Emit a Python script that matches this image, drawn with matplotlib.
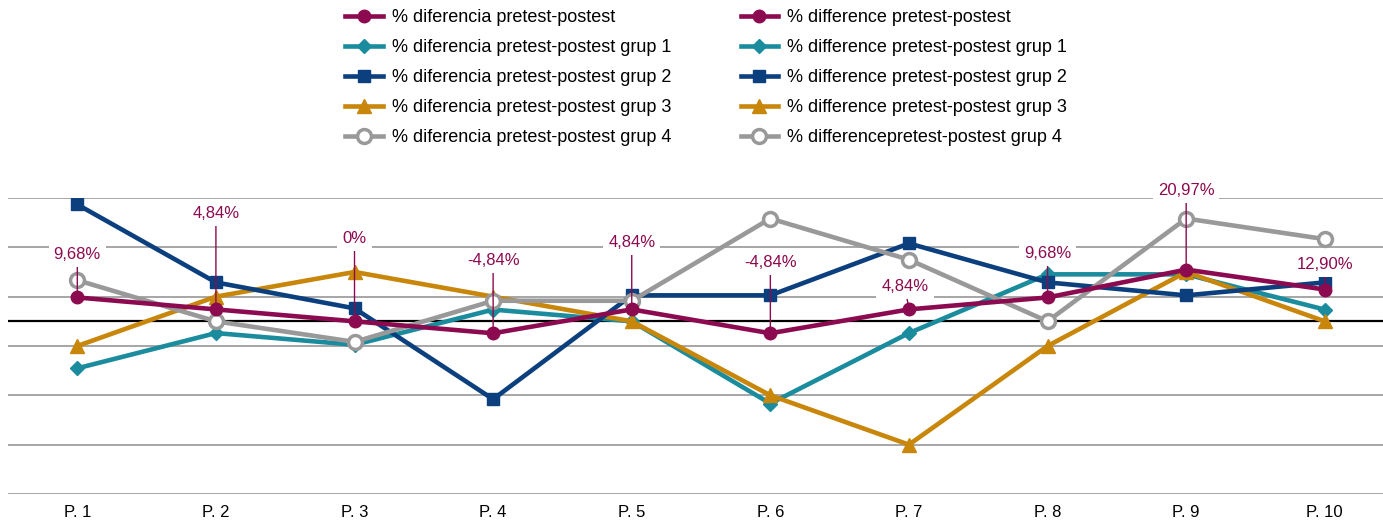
import numpy as np
import matplotlib.pyplot as plt

plt.rcParams['font.family'] = ['Liberation Sans', 'DejaVu Sans']

cats = ['P. 1', 'P. 2', 'P. 3', 'P. 4', 'P. 5', 'P. 6', 'P. 7', 'P. 8', 'P. 9', 'P. 10']
total = [9.68, 4.84, 0, -4.84, 4.84, -4.84, 4.84, 9.68, 20.97, 12.90]
total_lbl = ['9,68%', '4,84%', '0%', '-4,84%', '4,84%', '-4,84%', '4,84%', '9,68%', '20,97%', '12,90%']
grup1 = [-19.05, -4.76, -9.52, 4.76, 0, -33.33, -4.76, 19.05, 19.05, 4.76]
grup2 = [47.37, 15.79, 5.26, -31.58, 10.53, 10.53, 31.58, 15.79, 10.53, 15.79]
grup3 = [-10, 10, 20, 10, 0, -30, -50, -10, 20, 0]
grup4 = [16.67, 0, -8.33, 8.33, 8.33, 41.67, 25, 0, 41.67, 33.33]

labels_ca = ['% diferencia pretest-postest',
             '% diferencia pretest-postest grup 1',
             '% diferencia pretest-postest grup 2',
             '% diferencia pretest-postest grup 3',
             '% diferencia pretest-postest grup 4']
labels_en = ['% difference pretest-postest',
             '% difference pretest-postest grup 1',
             '% difference pretest-postest grup 2',
             '% difference pretest-postest grup 3',
             '% differencepretest-postest grup 4']

maroon = '#8c0a4f'
teal = '#1b8c9e'
navy = '#0b3f7e'
gold = '#c8860b'
grey = '#999999'

fig = plt.figure(figsize=(13.83, 5.24), dpi=100)
ax = fig.add_axes([8/1383, 30/524, 1 - 8/1383, 296/524])

x = np.arange(1, len(cats) + 1)

for yv in range(-70, 51, 20):
    ax.axhline(yv, color='#a6a6a6', lw=1.4, zorder=1)
ax.axhline(0, color='black', lw=1.6, zorder=2)

h = []
h += ax.plot(x, total, color=maroon, lw=3.3, marker='o', ms=9, zorder=7)
h += ax.plot(x, grup1, color=teal, lw=3.3, marker='D', ms=7.5, zorder=4)
h += ax.plot(x, grup2, color=navy, lw=3.3, marker='s', ms=8.5, zorder=5)
h += ax.plot(x, grup3, color=gold, lw=3.3, marker='^', ms=10, zorder=4)
h += ax.plot(x, grup4, color=grey, lw=3.3, marker='o', ms=10, mfc='white',
             mew=2.5, zorder=6)

# label offsets in pixels (dx, dy)
offs = [(0, 43), (0, 96), (0, 83), (0, 73), (0, 67), (0, 71), (-4, 23), (0, 44), (0, 79), (0, 25)]
for xi, yi, t, (dx, dy) in zip(x, total, total_lbl, offs):
    ax.annotate(t, (xi, yi), xytext=(dx, dy), textcoords='offset pixels',
                ha='center', va='center', color=maroon, fontsize=12,
                bbox=dict(boxstyle='square,pad=0.3', fc='white', ec='none'),
                arrowprops=dict(arrowstyle='-', color=maroon, lw=1,
                                shrinkA=0, shrinkB=0),
                zorder=8)

ax.set_xlim(0.5, 10.42)
ax.set_ylim(-70, 50)
ax.set_xticks(x)
ax.set_xticklabels(cats, fontsize=12)
ax.set_yticks([])
ax.tick_params(axis='x', length=0, pad=8)
for s in ax.spines.values():
    s.set_visible(False)

fig.legend(h + h, labels_ca + labels_en, ncol=2, loc='upper center',
           bbox_to_anchor=(0.5105, 1.014), frameon=False, fontsize=13,
           handlelength=2.1, labelspacing=0.72, columnspacing=3.85,
           handletextpad=0.5)

fig.savefig('out.png', dpi=100)
